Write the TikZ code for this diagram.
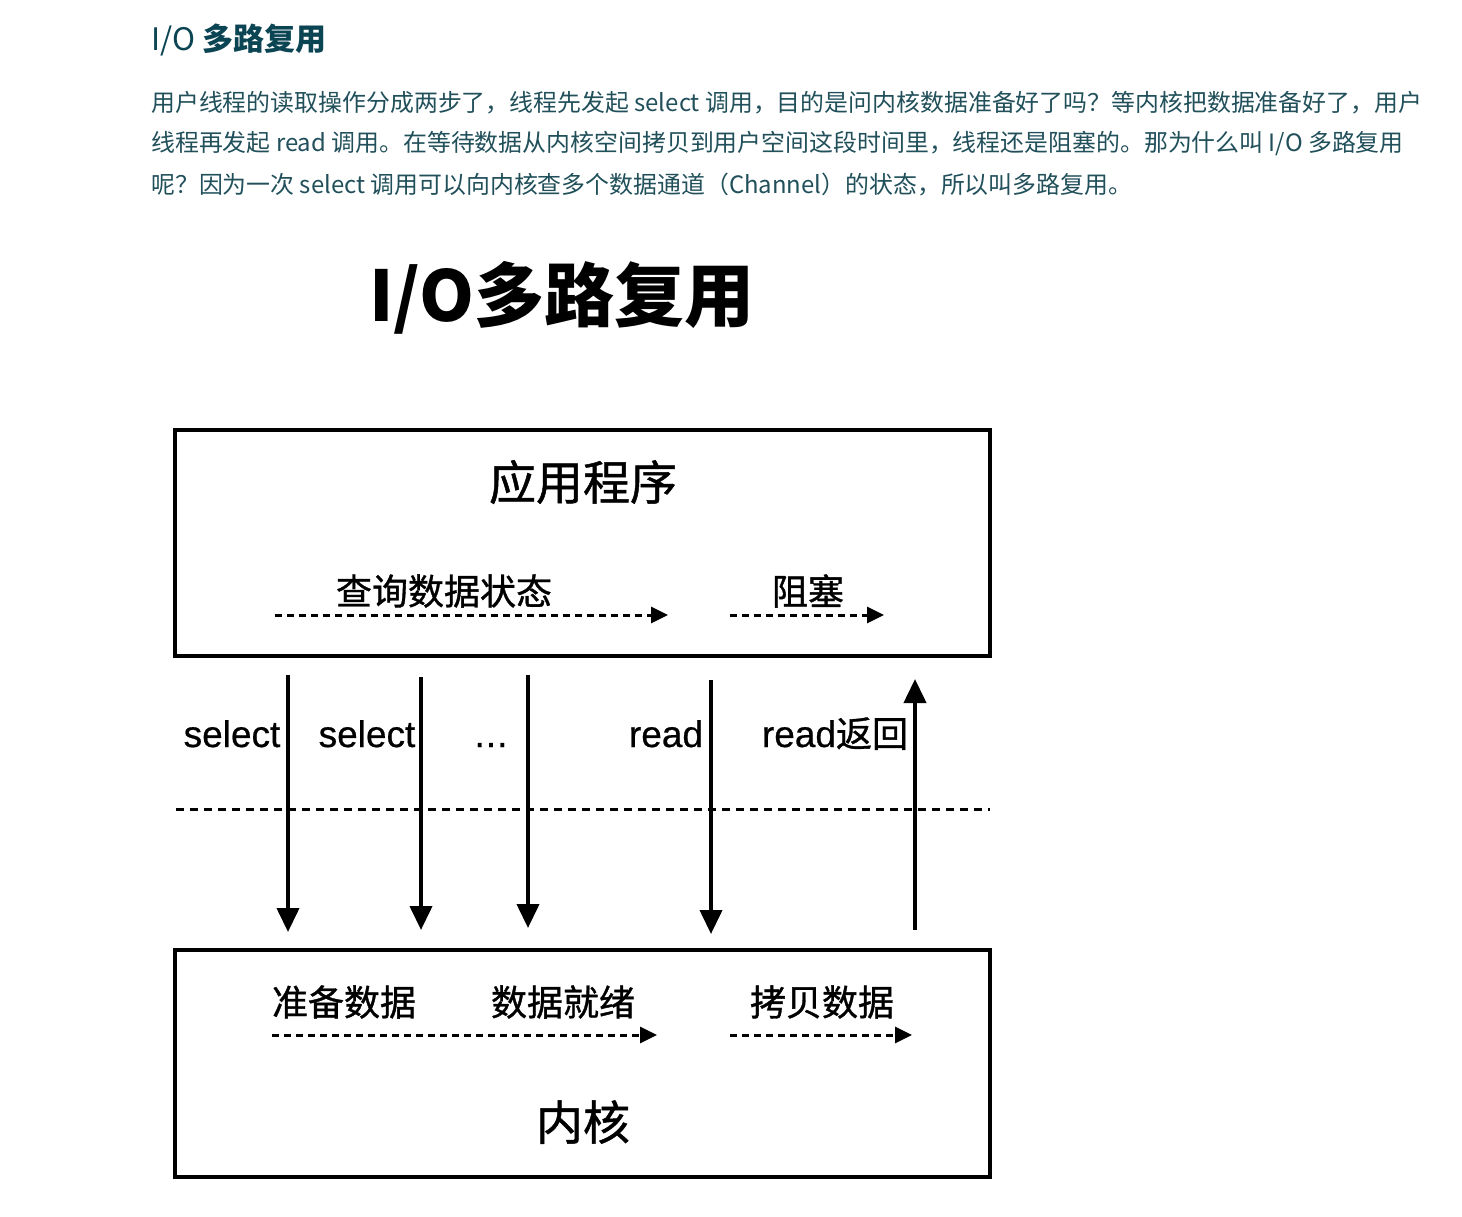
\documentclass[tikz,border=0pt]{standalone}
\usepackage{fontspec}
\setmainfont{Noto Sans CJK SC}
\newfontfamily\latf[FakeBold=0.6]{Liberation Sans}
\newfontfamily\cjkm[FakeBold=1]{Noto Sans CJK SC}
\usetikzlibrary{arrows.meta}
\definecolor{headc}{HTML}{0B4553}
\definecolor{bodyc}{HTML}{21505B}
\begin{document}
\begin{tikzpicture}[x=1pt,y=-1pt,
  box/.style={draw=black, line width=4pt, minimum width=815pt, inner sep=0pt},
  para/.style={anchor=west, inner sep=0pt, text=bodyc, font=\fontsize{23.9}{24}\selectfont},
  lbl/.style={inner sep=0pt, font=\fontsize{36}{36}\selectfont\cjkm},
  biglbl/.style={inner sep=0pt, font=\fontsize{47}{47}\selectfont\cjkm},
  latlbl/.style={inner sep=0pt, anchor=base, font=\fontsize{37}{37}\selectfont\latf},
  callarrow/.style={line width=4pt, -{Triangle[length=24pt,width=22pt]}},
  flowarrow/.style={line width=3pt, dash pattern=on 7pt off 5pt, -{Triangle[length=17pt,width=16pt]}},
  sepline/.style={line width=3pt, dash pattern=on 8pt off 6pt},
]
\fill[white] (0,0) rectangle (1462,1216);
\useasboundingbox (0,0) rectangle (1462,1216);

% header text
\node[anchor=west, inner sep=0pt, text=headc, font=\fontsize{31}{31}\selectfont] (head) at (151,40) {I/O \textbf{多路复用}};
\node[para] (p1) at (151,103) {用户线程的读取操作分成两步了，线程先发起 select 调用，目的是问内核数据准备好了吗？等内核把数据准备好了，用户};
\node[para] (p2) at (151,144) {线程再发起 read 调用。在等待数据从内核空间拷贝到用户空间这段时间里，线程还是阻塞的。那为什么叫 I/O 多路复用};
\node[para] (p3) at (151,185) {呢？因为一次 select 调用可以向内核查多个数据通道（Channel）的状态，所以叫多路复用。};

% diagram title
\node[inner sep=0pt, font=\fontsize{70}{70}\selectfont\bfseries] (title) at (562,298) {I/O多路复用};

% boxes
\node[box, minimum height=226pt] (app) at (582.5,543) {};
\node[box, minimum height=227pt] (kern) at (582.5,1063.5) {};

\node[biglbl] (appl) at (583,482) {应用程序};
\node[biglbl] (kernl) at (583,1122) {内核};

% top flow
\node[lbl] (q) at (444,591) {查询数据状态};
\node[lbl] (blk) at (808,591) {阻塞};
\coordinate (qa) at (275,615); \coordinate (qb) at (668,615);
\coordinate (ba) at (730,615); \coordinate (bb) at (884,615);
\draw[flowarrow] (qa) -- (qb);
\draw[flowarrow] (ba) -- (bb);

% bottom flow
\node[lbl] (prep) at (344,1002) {准备数据};
\node[lbl] (ready) at (563,1002) {数据就绪};
\node[lbl] (copy) at (822,1002) {拷贝数据};
\coordinate (ka) at (272,1035); \coordinate (kb) at (657,1035);
\coordinate (ca) at (730,1035); \coordinate (cb) at (912,1035);
\draw[flowarrow] (ka) -- (kb);
\draw[flowarrow] (ca) -- (cb);

% separator
\coordinate (sa) at (176,809); \coordinate (sb) at (990,809);
\draw[sepline] (sa) -- (sb);

% calls
\coordinate (c1a) at (288,675); \coordinate (c1b) at (288,932);
\coordinate (c2a) at (421,677); \coordinate (c2b) at (421,930);
\coordinate (c3a) at (528,675); \coordinate (c3b) at (528,928);
\coordinate (c4a) at (711,680); \coordinate (c4b) at (711,934);
\coordinate (c5a) at (915,930); \coordinate (c5b) at (915,679);
\draw[callarrow] (c1a) -- (c1b);
\draw[callarrow] (c2a) -- (c2b);
\draw[callarrow] (c3a) -- (c3b);
\draw[callarrow] (c4a) -- (c4b);
\draw[callarrow] (c5a) -- (c5b);

\node[latlbl] (sel1) at (232,747) {select};
\node[latlbl] (sel2) at (367,747) {select};
\node[latlbl] (dots) at (491,747) {.\kern1pt.\kern1pt.};
\node[latlbl] (rd) at (666,747) {read};
\node[latlbl] (rdr) at (835,747) {read{\fontsize{36}{36}\selectfont\cjkm 返回}};
\end{tikzpicture}
\end{document}
